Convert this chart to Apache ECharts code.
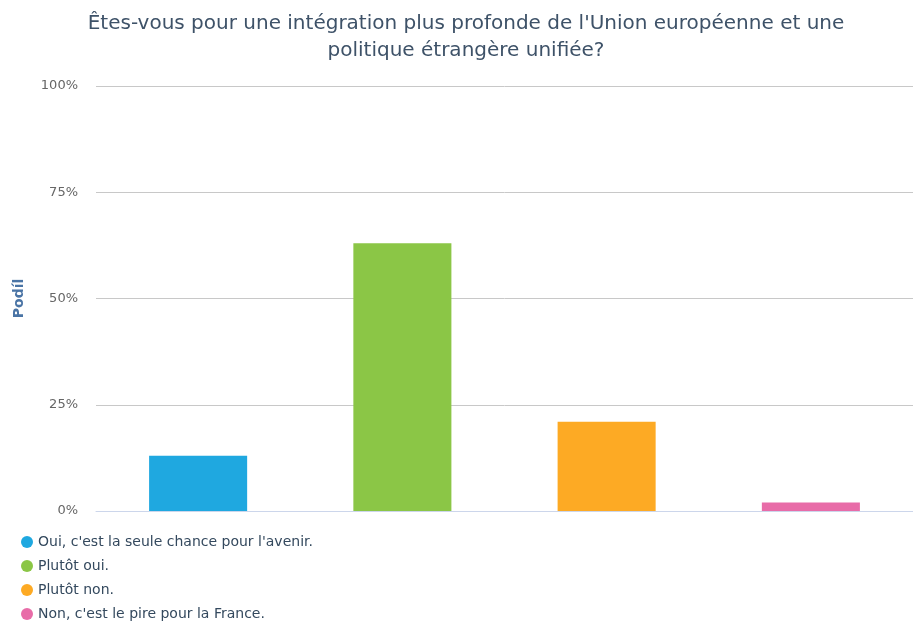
<!DOCTYPE html>
<html>
<head>
<meta charset="utf-8">
<script src="https://cdn.jsdelivr.net/npm/echarts@6/dist/echarts.min.js"></script>
<style>
  html, body { margin: 0; padding: 0; background: #fff; }
  #chart { width: 913px; height: 629px; }
</style>
</head>
<body>
<div id="chart"></div>
<script>
  // données
  var categories = ['Oui, c\'est la seule chance pour l\'avenir.', 'Plutôt oui.', 'Plutôt non.', 'Non, c\'est le pire pour la France.'];
  var values = [13, 63, 21, 2];
  var colors = ['#1fa8e0', '#8bc646', '#fdaa24', '#e86ca8'];
  var yTicks = [0, 25, 50, 75, 100];

  var font = '"DejaVu Sans", sans-serif';

  var series = [];
  for (var i = 0; i < categories.length; i++) {
    var d = [];
    for (var j = 0; j < categories.length; j++) {
      d.push(i === j ? values[i] : '-');
    }
    series.push({
      name: categories[i],
      type: 'bar',
      stack: 'all',
      barWidth: '48%',
      data: d,
      itemStyle: { color: colors[i] }
    });
  }

  var myChart = echarts.init(document.getElementById('chart'));
  myChart.setOption({
    animation: false,
    textStyle: { fontFamily: font },
    title: {
      text: 'Êtes-vous pour une intégration plus profonde de l\'Union européenne et une\npolitique étrangère unifiée?',
      left: 461,
      textAlign: 'center',
      top: 5,
      textStyle: { fontSize: 20, fontWeight: 'normal', color: '#3e5268', lineHeight: 27, fontFamily: font, align: 'center' }
    },
    legend: {
      orient: 'vertical',
      left: 16,
      top: 530,
      height: 99,
      icon: 'circle',
      itemWidth: 12,
      itemHeight: 12,
      itemGap: 10,
      selectedMode: false,
      textStyle: { fontSize: 14, color: '#34495e', fontFamily: font },
      data: categories
    },
    grid: { left: 96, right: -4, top: 86, bottom: 118 },
    xAxis: {
      type: 'category',
      data: categories,
      axisLine: { lineStyle: { color: '#ccd6eb' } },
      axisTick: { alignWithLabel: true, length: 6, lineStyle: { color: '#ccd6eb' } },
      axisLabel: { show: false }
    },
    yAxis: {
      type: 'value',
      min: yTicks[0],
      max: yTicks[yTicks.length - 1],
      interval: 25,
      name: 'Podíl',
      nameLocation: 'middle',
      nameGap: 70,
      nameTextStyle: { color: '#4a74a5', fontWeight: 'bold', fontSize: 14, fontFamily: font },
      axisLabel: { formatter: '{value}%', color: '#666666', fontSize: 13, margin: 18 },
      splitLine: { lineStyle: { color: '#c8c8c8' } },
      axisLine: { show: false },
      axisTick: { show: false }
    },
    series: series
  });
</script>
</body>
</html>
